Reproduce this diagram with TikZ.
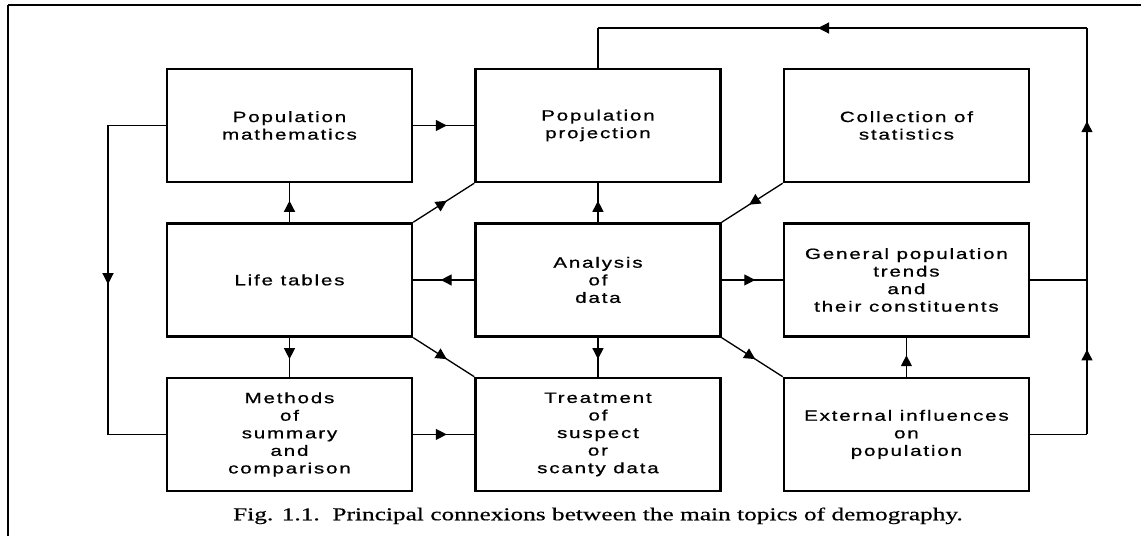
\documentclass[tikz,border=0pt]{standalone}
\usepackage{fontspec}
\usepackage{tikz}
\usetikzlibrary{positioning, arrows.meta, decorations.markings}
\newfontfamily\topicfont[FakeStretch=1.38, LetterSpace=12, FakeBold=0.8]{Liberation Sans}
\newfontfamily\captionfont[FakeStretch=1.4, FakeBold=0.5]{Liberation Serif}

\begin{document}
\begin{tikzpicture}[
  x=0.2mm, y=-0.2mm,
  % Styles
  topic/.style={
    rectangle, draw, line width=1.4pt,
    minimum width=49mm, minimum height=22.6mm,
    font=\topicfont\fontsize{8.5}{10}\selectfont,
    align=center
  },
  link/.style={line width=0.75pt},
  flow/.style={
    link, postaction={decorate},
    decoration={markings,
      mark=at position #1 with {\arrow{Triangle[length=2.2mm, width=2.2mm]}}}
  },
  flow/.default=0.55,
]
\useasboundingbox (0,0) rectangle (1141,536);

% === FRAME ===
\draw[line width=1.7pt] (8,5) -- (1141,5);
\draw[line width=0.8pt] (8,5) -- (8,536);

% === TOPICS ===
\node[topic] (popmath) at (289.5,125.5) {Population\\mathematics};
\node[topic, right=12.2mm of popmath] (popproj) {Population\\projection};
\node[topic, right=12.2mm of popproj] (collect) {Collection of\\statistics};

\node[topic, below=7.8mm of popmath] (lifetab) {Life tables};
\node[topic, below=7.8mm of popproj] (analysis) {Analysis\\of\\data};
\node[topic, below=7.8mm of collect] (trends) {General population\\trends\\and\\their constituents};

\node[topic, below=7.8mm of lifetab] (methods) {Methods\\of\\summary\\and\\comparison};
\node[topic, below=7.8mm of analysis] (treat) {Treatment\\of\\suspect\\or\\scanty data};
\node[topic, below=7.8mm of trends] (extern) {External influences\\on\\population};

% === CAPTION ===
\node[font=\captionfont\fontsize{10.3}{12}\selectfont, inner sep=0pt, below=3mm of treat]
  (caption) {Fig. 1.1.~~Principal connexions between the main topics of demography.};

% === Straight connexions ===
\draw[flow] (popmath.east) -- (popproj.west);
\draw[flow] (lifetab.north) -- (popmath.south);
\draw[flow] (analysis.north) -- (popproj.south);
\draw[flow] (analysis.west) -- (lifetab.east);
\draw[flow] (analysis.east) -- (trends.west);
\draw[flow] (lifetab.south) -- (methods.north);
\draw[flow] (analysis.south) -- (treat.north);
\draw[flow] (methods.east) -- (treat.west);
\draw[flow] (extern.north) -- (trends.south);

% === Diagonal connexions ===
\draw[flow] (lifetab.north east) -- (popproj.south west);
\draw[flow] (collect.south west) -- (analysis.north east);
\draw[flow] (lifetab.south east) -- (treat.north west);
\draw[flow] (analysis.south east) -- (extern.north west);

% === Left loop ===
\coordinate (leftrail) at (108,0);
\draw[flow=0.51] (popmath.west) -- (popmath.west -| leftrail) -- (methods.west -| leftrail) -- (methods.west);

% === Right loop back to projection ===
\coordinate (rightrail) at (1087,28);
\draw[link] (extern.east) -- (extern.east -| rightrail);
\draw[link] (trends.east) -- (trends.east -| rightrail);
\draw[flow] (extern.east -| rightrail) -- (trends.east -| rightrail);
\draw[flow=0.63] (trends.east -| rightrail) -- (rightrail);
\draw[flow] (rightrail) -- (rightrail -| popproj.north);
\draw[link] (rightrail -| popproj.north) -- (popproj.north);

\end{tikzpicture}
\end{document}
